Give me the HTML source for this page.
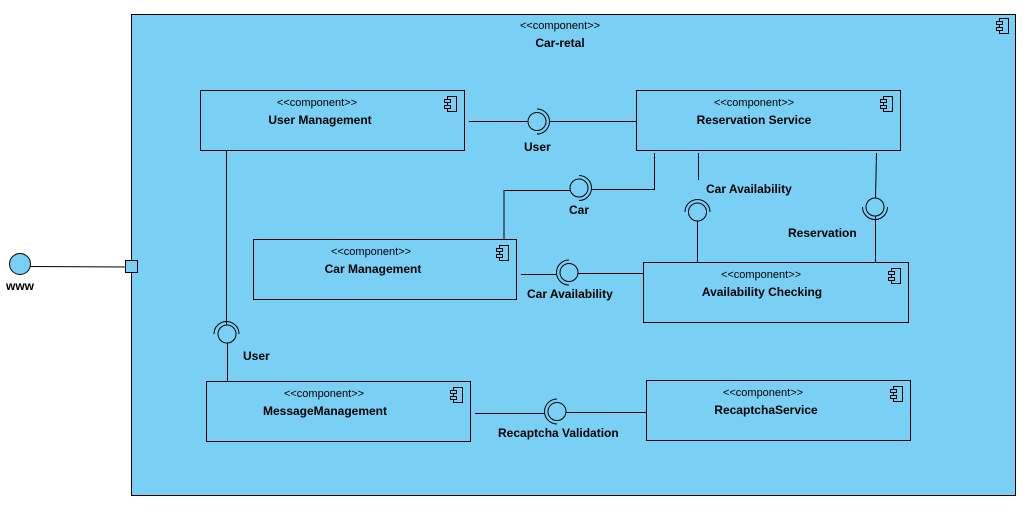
<!DOCTYPE html>
<html><head><meta charset="utf-8"><style>
html,body{margin:0;padding:0;background:#fff;}
svg{display:block;font-family:"Liberation Sans",Arial,sans-serif;}
.b{font-weight:bold;font-size:12px;}
.s{font-size:11px;}
</style></head><body>
<svg width="1033" height="514" viewBox="0 0 1033 514" xmlns="http://www.w3.org/2000/svg">
<defs>
<g id="ic" fill="#7ACFF5" stroke="#000" stroke-width="1">
<rect x="3" y="0" width="9" height="15"/>
<rect x="0" y="3" width="6" height="3"/>
<rect x="0" y="9" width="6" height="3"/>
</g>
</defs>
<rect x="131.5" y="14.5" width="884" height="481" fill="#7ACFF5" stroke="#000"/>
<text x="560" y="29" class="s" text-anchor="middle">&lt;&lt;component&gt;&gt;</text>
<text x="560" y="47" class="b" text-anchor="middle">Car-retal</text>
<use href="#ic" x="996.5" y="18.5"/>

<g fill="#7ACFF5" stroke="#000">
<rect x="200.5" y="90.5" width="264" height="60"/>
<rect x="636.5" y="90.5" width="264" height="60"/>
<rect x="253.5" y="239.5" width="263" height="60"/>
<rect x="643.5" y="262.5" width="265" height="60"/>
<rect x="206.5" y="381.5" width="264" height="60"/>
<rect x="646.5" y="380.5" width="264" height="60"/>
</g>
<use href="#ic" x="444.5" y="96.5"/>
<use href="#ic" x="880.5" y="96.5"/>
<use href="#ic" x="496.5" y="245.5"/>
<use href="#ic" x="888.5" y="268.5"/>
<use href="#ic" x="450.5" y="387.5"/>
<use href="#ic" x="890.5" y="386.5"/>

<g text-anchor="middle">
<text x="317" y="106" class="s">&lt;&lt;component&gt;&gt;</text>
<text x="320" y="124" class="b">User Management</text>
<text x="754" y="106" class="s">&lt;&lt;component&gt;&gt;</text>
<text x="754" y="124" class="b">Reservation Service</text>
<text x="371" y="255" class="s">&lt;&lt;component&gt;&gt;</text>
<text x="373" y="273" class="b">Car Management</text>
<text x="761" y="278" class="s">&lt;&lt;component&gt;&gt;</text>
<text x="762" y="296" class="b">Availability Checking</text>
<text x="324" y="397" class="s">&lt;&lt;component&gt;&gt;</text>
<text x="325" y="415" class="b">MessageManagement</text>
<text x="763" y="396" class="s">&lt;&lt;component&gt;&gt;</text>
<text x="766" y="414" class="b">RecaptchaService</text>
</g>

<g fill="none" stroke="#000" stroke-width="1">
<line x1="469" y1="121.5" x2="528" y2="121.5"/>
<circle cx="537" cy="121.5" r="9" fill="#7ACFF5"/>
<path d="M537,109 A12.5,12.5 0 0 1 537,134"/>
<line x1="550" y1="121.5" x2="636" y2="121.5"/>

<polyline points="504,239 504,190.5 570,190.5"/>
<circle cx="579" cy="188" r="9" fill="#7ACFF5"/>
<path d="M579,175.5 A12.5,12.5 0 0 1 579,200.5"/>
<polyline points="592,189.5 654.5,189.5 654.5,153"/>

<line x1="698.5" y1="153" x2="698.5" y2="180"/>
<path d="M685,212 A12.5,12.5 0 0 1 710,212"/>
<circle cx="697.5" cy="212" r="9" fill="#7ACFF5"/>
<line x1="697.5" y1="221" x2="697.5" y2="262"/>

<line x1="876.5" y1="153" x2="875.5" y2="198"/>
<circle cx="875" cy="207" r="9" fill="#7ACFF5"/>
<path d="M862.5,207 A12.5,12.5 0 0 0 887.5,207"/>
<line x1="875.5" y1="216" x2="875.5" y2="262"/>

<line x1="521" y1="274.5" x2="556" y2="274.5"/>
<path d="M569,260 A12.5,12.5 0 0 0 569,285"/>
<circle cx="569" cy="272.5" r="9" fill="#7ACFF5"/>
<line x1="578" y1="273.5" x2="643" y2="273.5"/>

<line x1="226.5" y1="150" x2="226.5" y2="325"/>
<path d="M214,334 A12.5,12.5 0 0 1 239,334"/>
<circle cx="227" cy="334" r="9" fill="#7ACFF5"/>
<line x1="227.5" y1="343" x2="227.5" y2="381"/>

<line x1="475" y1="413.5" x2="545" y2="413.5"/>
<path d="M557,399 A12.5,12.5 0 0 0 557,424"/>
<circle cx="557" cy="411.5" r="9" fill="#7ACFF5"/>
<line x1="566" y1="412.5" x2="646" y2="412.5"/>

<line x1="30" y1="266.5" x2="125" y2="267"/>
</g>
<circle cx="20" cy="264" r="10.5" fill="#7ACFF5" stroke="#000"/>
<rect x="125.5" y="260.5" width="12" height="12" fill="#7ACFF5" stroke="#000"/>

<g class="b">
<text x="524" y="151">User</text>
<text x="569" y="214">Car</text>
<text x="706" y="193">Car Availability</text>
<text x="788" y="237">Reservation</text>
<text x="527" y="298">Car Availability</text>
<text x="243" y="360">User</text>
<text x="498" y="437">Recaptcha Validation</text>
<text x="6" y="290">www</text>
</g>
</svg>
</body></html>
